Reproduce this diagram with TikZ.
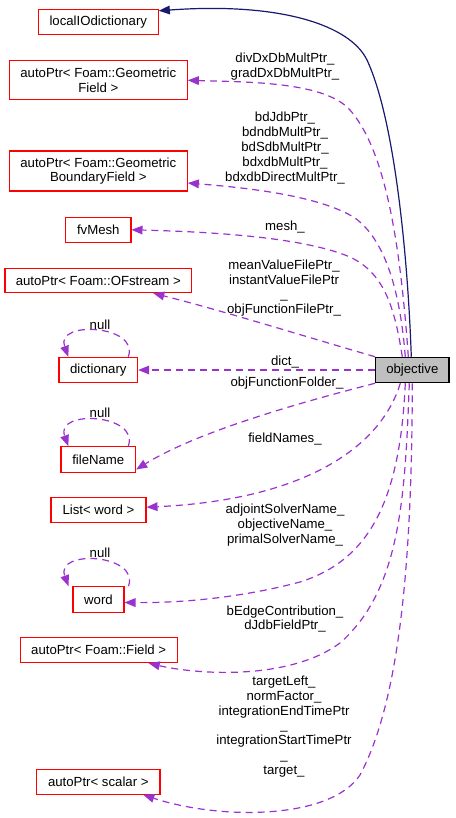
\documentclass[tikz,border=0pt]{standalone}
\usepackage{fontspec}
\setmainfont{Liberation Sans}
\usetikzlibrary{arrows.meta}
\definecolor{edgepurple}{HTML}{9A32CD}
\definecolor{edgeblue}{HTML}{191970}
\definecolor{objgray}{HTML}{BFBFBF}
\begin{document}
\begin{tikzpicture}[x=1pt,y=-1pt,
  cls/.style={draw=red, line width=1.1pt, fill=white, inner sep=0pt, align=center,
    font=\fontsize{13.2}{14.8}\selectfont},
  objbox/.style={draw=black, line width=1.1pt, fill=objgray, inner sep=0pt,
    font=\fontsize{13.2}{14.8}\selectfont},
  lbl/.style={inner sep=0pt, align=center, font=\fontsize{13.2}{14.8}\selectfont},
  member/.style={draw=edgepurple, line width=1.2pt, dash pattern=on 7pt off 5pt,
    -{Triangle[length=11pt,width=9pt,fill=edgepurple,line width=0pt]}},
  inherit/.style={draw=edgeblue, line width=1.2pt,
    -{Triangle[length=11pt,width=9pt,fill=edgeblue,line width=0pt]}}
]
\useasboundingbox (0,0) rectangle (455,818);

% nodes
\node[cls, minimum width=120pt, minimum height=25pt] (loc) at (98.3,21.8) {localIOdictionary};
\node[cls, minimum width=178pt, minimum height=39.3pt] (geo) at (98.3,80.3) {autoPtr< Foam::Geometric\\Field >};
\node[cls, minimum width=178pt, minimum height=40pt] (bnd) at (98.3,171) {autoPtr< Foam::Geometric\\BoundaryField >};
\node[cls, minimum width=65.3pt, minimum height=25pt] (fv) at (98.3,229.8) {fvMesh};
\node[cls, minimum width=186.7pt, minimum height=24.4pt] (ofs) at (98.3,280.5) {autoPtr< Foam::OFstream >};
\node[cls, minimum width=78.7pt, minimum height=25.4pt] (dict) at (98.3,370) {dictionary};
\node[cls, minimum width=74.7pt, minimum height=25.6pt] (fn) at (98.3,459.5) {fileName};
\node[cls, minimum width=95pt, minimum height=25pt] (lw) at (98.5,510.2) {List< word >};
\node[cls, minimum width=51pt, minimum height=25.6pt] (wd) at (98.5,599.5) {word};
\node[cls, minimum width=157.3pt, minimum height=25.4pt] (fld) at (98.7,650) {autoPtr< Foam::Field >};
\node[cls, minimum width=123.3pt, minimum height=25pt] (sc) at (98.3,781.8) {autoPtr< scalar >};
\node[objbox, minimum width=73.3pt, minimum height=25.4pt] (obj) at (412.3,370) {objective};

% inheritance
\draw[inherit] ([xshift=-1pt]obj.north) .. controls (408,260) and (395,120) .. (367,60)
  .. controls (350,25) and (280,2) .. ([yshift=11pt]loc.east);

% members
\draw[member] ([xshift=-4pt]obj.north) .. controls (400,240) and (385,150) .. (350,110)
  .. controls (325,82) and (250,82) .. (geo.east);
\draw[member] ([xshift=-7pt]obj.north) .. controls (400,290) and (385,240) .. (355,218)
  .. controls (320,196) and (250,188) .. ([yshift=-12pt]bnd.east);
\draw[member] ([xshift=-10pt]obj.north) .. controls (395,310) and (385,270) .. (345,255)
  .. controls (300,238) and (220,232) .. (fv.east);
\draw[member] (obj.north west) .. controls (300,335) and (220,310) .. ([xshift=55pt]ofs.south);
\draw[member] (obj.west) -- (dict.east);
\draw[member] (obj.south west) .. controls (310,400) and (200,430) .. ([yshift=-10pt]fn.east);
\draw[member] ([xshift=-12pt]obj.south) .. controls (380,450) and (300,500) .. ([yshift=3pt]lw.east);
\draw[member] ([xshift=-7pt]obj.south) .. controls (400,500) and (370,560) .. (300,582)
  .. controls (240,598) and (180,603) .. ([yshift=-3pt]wd.east);
\draw[member] ([xshift=-3pt]obj.south) .. controls (405,500) and (400,590) .. (340,643)
  .. controls (290,680) and (200,675) .. ([xshift=50pt]fld.south);
\draw[member] (obj.south) .. controls (412,560) and (400,700) .. (360,775)
  .. controls (330,820) and (220,820) .. ([xshift=45pt]sc.south);

% self loops
\draw[member] ([xshift=30pt]dict.north) .. controls (140,325) and (55,320) .. ([xshift=-30pt]dict.north);
\draw[member] ([xshift=30pt]fn.north) .. controls (140,414) and (55,409) .. ([xshift=-30pt]fn.north);
\draw[member] ([xshift=30pt]wd.north) .. controls (140,554) and (55,549) .. ([xshift=-30pt]wd.north);

% labels
\node[lbl] (l1) at (285,66.5) {divDxDbMultPtr\_\\gradDxDbMultPtr\_};
\node[lbl] (l2) at (285,148) {bdJdbPtr\_\\bdndbMultPtr\_\\bdSdbMultPtr\_\\bdxdbMultPtr\_\\bdxdbDirectMultPtr\_};
\node[lbl] (l3) at (285,227) {mesh\_};
\node[lbl] (l4) at (284,288) {meanValueFilePtr\_\\instantValueFilePtr\\\_\\objFunctionFilePtr\_};
\node[lbl] (l5) at (285,362) {dict\_};
\node[lbl] (l6) at (287,383) {objFunctionFolder\_};
\node[lbl] (l7) at (285,439) {fieldNames\_};
\node[lbl] (l8) at (285,525) {adjointSolverName\_\\objectiveName\_\\primalSolverName\_};
\node[lbl] (l9) at (285,619) {bEdgeContribution\_\\dJdbFieldPtr\_};
\node[lbl] (l10) at (284,726.5) {targetLeft\_\\normFactor\_\\integrationEndTimePtr\\\_\\integrationStartTimePtr\\\_\\target\_};
\node[lbl] (n1) at (100,325) {null};
\node[lbl] (n2) at (100,413) {null};
\node[lbl] (n3) at (100,553) {null};
\end{tikzpicture}
\end{document}
